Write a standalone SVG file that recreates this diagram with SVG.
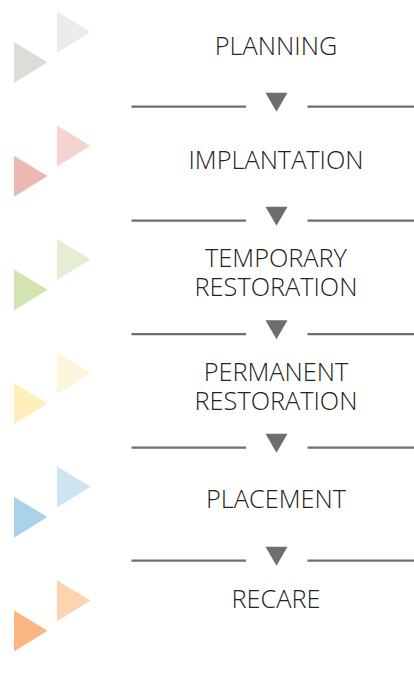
<svg xmlns="http://www.w3.org/2000/svg" width="414" height="673" viewBox="0 0 414 673">
<style>
.t{font-family:"Open Sans","Liberation Sans",sans-serif;font-size:25.3px;font-weight:300;fill:#222222;text-anchor:middle}
.sep{stroke:#6d6e71;stroke-width:2.2;fill:none}
.arr{fill:#6d6e71}
</style>
<defs>
<polygon id="tri" points="0,0 33.5,20.3 0,41"/>
<g id="divider">
<line class="sep" x1="131.5" y1="0" x2="246" y2="0"/>
<line class="sep" x1="307.5" y1="0" x2="414" y2="0"/>
<polygon class="arr" points="265.5,-14 287.5,-14 276.5,5"/>
</g>
</defs>
<g id="planning">
<use href="#tri" x="14" y="42" fill="#dcdcd9"/>
<use href="#tri" x="57" y="11.7" fill="#ebebe9"/>
<text class="t" x="276" y="55">PLANNING</text>
</g>
<g id="implantation">
<use href="#tri" x="14" y="155.7" fill="#ecb8b2"/>
<use href="#tri" x="57" y="125.4" fill="#f5d4cf"/>
<text class="t" x="276" y="168.5">IMPLANTATION</text>
</g>
<g id="temporary-restoration">
<use href="#tri" x="14" y="269.4" fill="#d3e3b2"/>
<use href="#tri" x="57" y="239.1" fill="#e3eed4"/>
<text class="t" x="276" y="266.7">TEMPORARY</text>
<text class="t" x="276" y="295.7">RESTORATION</text>
</g>
<g id="permanent-restoration">
<use href="#tri" x="14" y="383.1" fill="#feefbd"/>
<use href="#tri" x="57" y="352.8" fill="#fef6da"/>
<text class="t" x="276" y="381.2">PERMANENT</text>
<text class="t" x="276" y="410.2">RESTORATION</text>
</g>
<g id="placement">
<use href="#tri" x="14" y="496.8" fill="#abd3e8"/>
<use href="#tri" x="57" y="466.5" fill="#cfe4f1"/>
<text class="t" x="276" y="508.3">PLACEMENT</text>
</g>
<g id="recare">
<use href="#tri" x="14" y="610.5" fill="#f9b680"/>
<use href="#tri" x="57" y="580.2" fill="#fed3b0"/>
<text class="t" x="276" y="608.3">RECARE</text>
</g>
<g id="connectors">
<use href="#divider" y="106.7"/>
<use href="#divider" y="220.7"/>
<use href="#divider" y="334.2"/>
<use href="#divider" y="447.7"/>
<use href="#divider" y="560.7"/>
</g>
</svg>
